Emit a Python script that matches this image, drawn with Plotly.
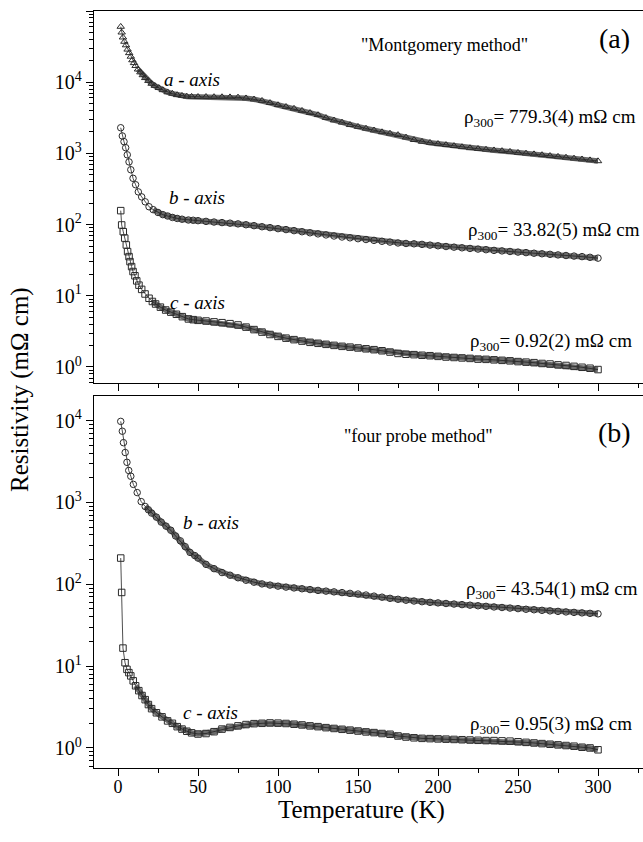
import plotly.graph_objects as go

# ---------------- data ----------------
T_HIGH = [50, 55, 60, 65, 70, 75, 80, 85, 90, 95,
          100, 105, 110, 115, 120, 125, 130, 135, 140, 145,
          150, 155, 160, 165, 170, 175, 180, 185, 190, 195,
          200, 205, 210, 215, 220, 225, 230, 235, 240, 245,
          250, 255, 260, 265, 270, 275, 280, 285, 290, 295, 300]

# (a) Montgomery, a-axis
A_T_low = [1.7, 2.3, 3.1, 4.0, 5.0, 6.0, 7.0, 8.0, 9.0, 10, 11, 12.5, 14, 15.5, 17, 19, 21, 23, 25.5, 28, 31, 34, 37, 40, 43, 46]
A_low = [60260, 50120, 42660, 37150, 33110, 28840, 25700, 22910, 20420, 18620, 16980, 15140, 13800, 12590, 11480,
         10470, 9550, 8913, 8318, 7762, 7244, 6918, 6607, 6457, 6310, 6266]
A_high = [6237, 6237, 6209, 6194, 6166, 6124, 5957, 5754, 5495, 5129,
          4786, 4519, 4266, 3981, 3715, 3467, 3162, 2917, 2723, 2512,
          2371, 2239, 2113, 1995, 1905, 1820, 1679, 1549, 1462, 1413,
          1365, 1318, 1274, 1230, 1189, 1161, 1135, 1109, 1084, 1059,
          1023, 1000, 977, 951, 925, 902, 877, 851, 828, 804, 780]

# (a) Montgomery, b-axis
B_T_low = [1.7, 2.7, 3.75, 4.8, 5.8, 6.9, 8.0, 9.4, 11, 12.7, 14.8, 17, 19.4, 22, 25, 28, 31, 34, 37, 40, 44, 47]
B_low = [2291, 1758, 1462, 1202, 955, 759, 589, 447, 363, 288, 245, 209, 178, 162, 148, 138, 132, 126, 122, 119, 116, 115]
B_high = [113.5, 110.9, 108.6, 106.7, 104.7, 102.3, 99.5, 96.6, 93.3, 90.6,
          87.7, 85.1, 82.2, 79.4, 76.7, 74.1, 71.6, 69.2, 67.0, 65.2,
          63.4, 61.7, 60.0, 58.3, 56.8, 55.2, 54.3, 53.7, 52.7, 51.5,
          50.4, 49.2, 48.2, 47.2, 46.2, 45.3, 44.4, 43.4, 42.7, 41.9,
          41.1, 40.4, 39.6, 38.9, 38.2, 37.5, 36.8, 36.1, 35.5, 34.7, 33.8]

# (a) Montgomery, c-axis
C_T_low = [1.7, 2.3, 3.3, 4.2, 5.2, 6.0, 6.9, 7.5, 8.5, 9.4, 10.6, 11.7, 13.1, 14.8, 16.9, 19.4, 21.5, 23.5, 26.5,
           29.8, 33, 36.5, 40.2, 44, 47]
C_low = [157, 98.8, 79.4, 64.6, 51.8, 41.7, 35.5, 30.2, 25.7, 21.9, 19.1, 16.2, 14.1, 12.3, 10.6, 9.23, 8.32, 7.67,
         6.92, 6.31, 5.89, 5.50, 5.09, 4.73, 4.62]
C_high = [4.52, 4.42, 4.30, 4.19, 4.06, 3.89, 3.63, 3.35, 3.09, 2.86,
          2.69, 2.54, 2.42, 2.31, 2.22, 2.15, 2.08, 2.01, 1.95, 1.90,
          1.85, 1.80, 1.75, 1.69, 1.62, 1.55, 1.51, 1.49, 1.46, 1.44,
          1.41, 1.38, 1.36, 1.34, 1.32, 1.29, 1.28, 1.26, 1.24, 1.22,
          1.19, 1.17, 1.15, 1.12, 1.10, 1.07, 1.05, 1.02, 0.99, 0.96, 0.92]

# (b) four probe, b-axis
D_T_low = [1.7, 2.7, 3.4, 4.5, 5.6, 6.7, 8.0, 9.6, 12, 14.5, 17, 19, 21, 24, 27, 30, 33, 36, 39, 42, 45, 48]
D_low = [9770, 7410, 5370, 4070, 3090, 2455, 2089, 1660, 1318, 1023, 891, 813, 741, 661, 575, 513, 457, 389, 339,
         288, 245, 224]
D_high = [209, 175, 155, 139, 129, 120, 112, 106, 101, 97.7,
          94.8, 92.3, 90.2, 88.1, 86.1, 84.1, 82.4, 80.7, 79.1, 77.4,
          75.9, 73.8, 71.6, 69.5, 67.3, 65.5, 63.8, 62.4, 61.2, 60.1,
          59.2, 58.2, 57.3, 56.4, 55.5, 54.6, 53.7, 52.8, 52.0, 51.2,
          50.4, 49.5, 48.8, 48.0, 47.3, 46.6, 45.9, 45.3, 44.7, 44.1, 43.5]

# (b) four probe, c-axis
E_T_low = [1.7, 2.3, 3.1, 4.4, 5.6, 6.8, 8, 9.5, 11, 13, 15, 17, 19, 21, 24, 27.5, 31, 34, 37, 40, 43, 46]
E_low = [209, 79.4, 16.6, 11.0, 9.12, 8.32, 7.59, 6.61, 5.75, 5.01, 4.37, 3.89, 3.39, 3.02, 2.69, 2.40, 2.14, 2.0,
         1.82, 1.70, 1.60, 1.53]
E_high = [1.48, 1.50, 1.58, 1.70, 1.78, 1.86, 1.93, 1.98, 2.00, 2.02,
          2.01, 1.99, 1.95, 1.91, 1.86, 1.82, 1.77, 1.73, 1.69, 1.65,
          1.61, 1.57, 1.54, 1.50, 1.47, 1.40, 1.36, 1.33, 1.31, 1.30,
          1.29, 1.28, 1.27, 1.26, 1.25, 1.24, 1.23, 1.23, 1.22, 1.21,
          1.19, 1.17, 1.15, 1.13, 1.11, 1.09, 1.07, 1.05, 1.02, 1.00, 0.95]

X_TICKS = [0, 50, 100, 150, 200, 250, 300]
Y_TICKS_TOP = [1, 10, 100, 1000, 10000, 100000]
Y_TICKS_BOT = [1, 10, 100, 1000, 10000]

# ---------------- figure ----------------
W, H = 643, 842
ML, MR, MT, MB = 94, 0, 11, 74
PW, PH = W - ML - MR, H - MT - MB


def px(xp):
    return (xp - ML) / PW


def py(yp):
    return (H - MB - yp) / PH


FONT = "Liberation Serif, Times New Roman, serif"
fig = go.Figure()

series = [
    (A_T_low, A_low, A_high, "triangle-up-open", "x2", "y2", 12),
    (B_T_low, B_low, B_high, "circle-open", "x2", "y2", 20),
    (C_T_low, C_low, C_high, "square-open", "x2", "y2", 20),
    (D_T_low, D_low, D_high, "circle-open", "x", "y", 15),
    (E_T_low, E_low, E_high, "square-open", "x", "y", 11),
]

for tl, vl, vh, sym, xa, ya, band_from in series:
    t = tl + T_HIGH
    v = vl + vh
    bt = [a for a in t if a >= band_from]
    bv = [b for a, b in zip(t, v) if a >= band_from]
    fig.add_trace(go.Scatter(x=bt, y=bv, mode="lines", xaxis=xa, yaxis=ya,
                             line=dict(color="#6a6a6a", width=5.5), hoverinfo="skip"))
    fig.add_trace(go.Scatter(x=t, y=v, mode="lines+markers", xaxis=xa, yaxis=ya,
                             line=dict(color="#222", width=0.8),
                             marker=dict(symbol=sym, size=6.5, color="#2a2a2a",
                                         line=dict(color="#2a2a2a", width=1))))


def minor_vals(nmax):
    out = []
    for e in range(-1, nmax + 1):
        for m in range(2, 10):
            out.append(m * 10.0 ** e)
    return out


xcommon = dict(range=[-15, -15 + PW / 1.6], tickvals=X_TICKS, ticks="outside", ticklen=7, tickwidth=1,
               tickcolor="black", showline=True, linecolor="black", linewidth=1.3, mirror=True,
               showgrid=False, zeroline=False, ticklabelstandoff=-5,
               minor=dict(dtick=25, tick0=0, ticks="outside", ticklen=4, tickcolor="black", showgrid=False),
               tickfont=dict(family=FONT, size=18, color="black"))

ycommon = dict(type="log", ticks="outside", ticklen=7, tickwidth=1, tickcolor="black",
               showline=True, linecolor="black", linewidth=1.3, mirror=False, showgrid=False,
               zeroline=False, tickfont=dict(family=FONT, size=20, color="black"))

top_lo = py(383)
bot_hi = py(396)

fig.update_layout(
    width=W, height=H, margin=dict(l=ML, r=MR, t=MT, b=MB),
    paper_bgcolor="white", plot_bgcolor="white", showlegend=False,
    font=dict(family=FONT, color="black"),
    xaxis=dict(xcommon, anchor="y", domain=[0, 1], showticklabels=True),
    xaxis2=dict(xcommon, anchor="y2", domain=[0, 1], showticklabels=False, matches="x"),
    yaxis=dict(ycommon, anchor="x", domain=[0, bot_hi], range=[-0.245, 4.3],
               tickvals=Y_TICKS_BOT, ticktext=["10<sup>%d</sup>" % i for i in range(len(Y_TICKS_BOT))],
               minor=dict(tickvals=minor_vals(3), ticks="outside", ticklen=4, tickcolor="black", showgrid=False)),
    yaxis2=dict(ycommon, anchor="x2", domain=[top_lo, 1], range=[-0.225, 5.0],
                tickvals=Y_TICKS_TOP, ticktext=["10<sup>%d</sup>" % i for i in range(len(Y_TICKS_TOP))],
                minor=dict(tickvals=minor_vals(4), ticks="outside", ticklen=4, tickcolor="black", showgrid=False)),
)

ann = []


def add(text, xp, yp, size, italic=False, angle=0):
    ann.append(dict(text=("<i>%s</i>" % text) if italic else text, x=px(xp), y=py(yp), xref="paper", yref="paper",
                    xanchor="center", yanchor="middle", showarrow=False, textangle=angle,
                    font=dict(family=FONT, size=size, color="black")))


add("(a)", 614, 38, 28)
add('"Montgomery method"', 444, 45, 18)
add("a - axis", 192, 80, 19, italic=True)
add("ρ<sub>300</sub>= 779.3(4) mΩ cm", 550, 118, 19)
add("b - axis", 197, 197, 19, italic=True)
add("ρ<sub>300</sub>= 33.82(5) mΩ cm", 554, 231, 19)
add("c - axis", 197, 302, 19, italic=True)
add("ρ<sub>300</sub>= 0.92(2) mΩ cm", 551, 342, 19)
add("(b)", 614, 432, 28)
add('"four probe method"', 418, 436, 18)
add("b - axis", 211, 522, 19, italic=True)
add("ρ<sub>300</sub>= 43.54(1) mΩ cm", 552, 590, 19)
add("c - axis", 210, 712, 19, italic=True)
add("ρ<sub>300</sub>= 0.95(3) mΩ cm", 551, 725, 19)
add("Temperature (K)", 361, 810, 25)
add("Resistivity (mΩ cm)", 20, 390, 25, angle=-90)

fig.update_layout(annotations=ann)
fig.write_html("out.html")
